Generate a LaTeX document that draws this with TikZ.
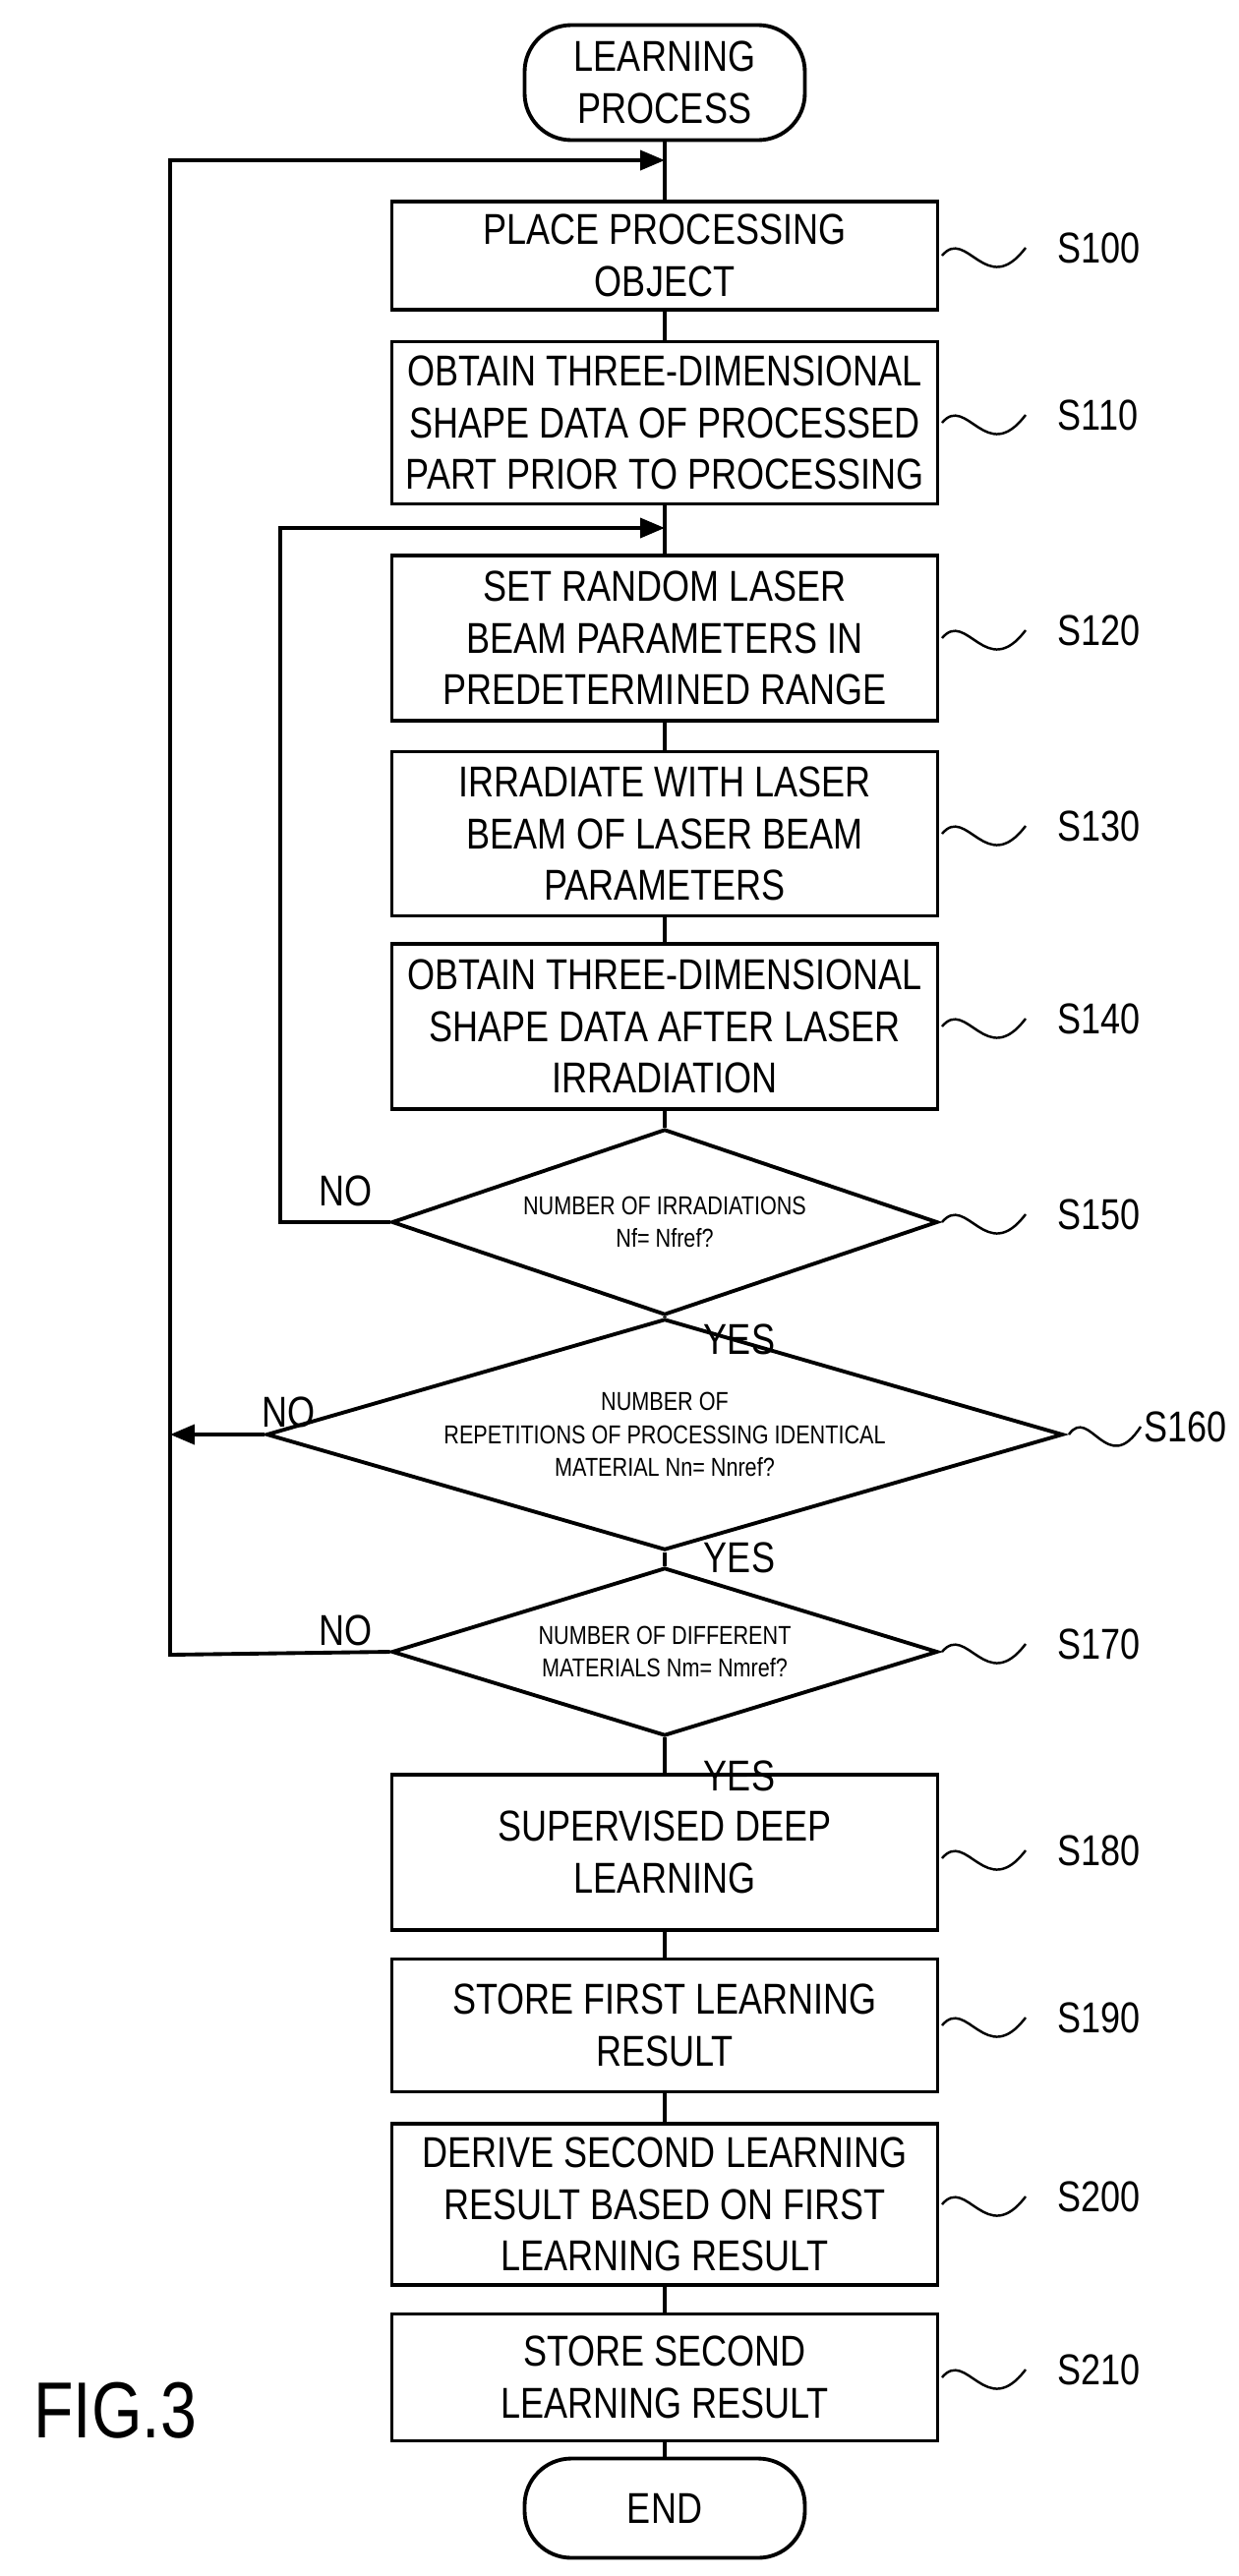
\documentclass[tikz,border=0pt]{standalone}
\usepackage{fontspec}
\setmainfont{Liberation Sans}[FakeStretch=0.82]
\usetikzlibrary{shapes.geometric,arrows.meta}
\begin{document}
\begin{tikzpicture}[x=0.02cm,y=-0.02cm,
  line width=2.2pt,
  box/.style={draw,rectangle,minimum width=555*0.02cm,inner sep=0pt,align=center,font=\fontsize{25}{30}\selectfont},
  term/.style={draw,rounded corners=0.95cm,minimum width=285*0.02cm,inner sep=0pt,align=center,font=\fontsize{25}{30}\selectfont},
  dia/.style={draw,diamond,inner sep=0pt,aspect=3,align=center,font=\fontsize{15}{19}\selectfont},
  lab/.style={font=\fontsize{25}{30}\selectfont},
  arr/.style={-{Triangle[length=0.5cm,width=0.4cm]}}]
\useasboundingbox (0,0) rectangle (1259,2620);
\node[term,minimum height=117*0.02cm] (start) at (676,84) {LEARNING\\PROCESS};
\node[box,minimum height=110*0.02cm] (s100) at (676,260) {PLACE PROCESSING\\OBJECT};
\node[box,minimum height=165*0.02cm] (s110) at (676,430) {OBTAIN THREE-DIMENSIONAL\\SHAPE DATA OF PROCESSED\\PART PRIOR TO PROCESSING};
\node[box,minimum height=168*0.02cm] (s120) at (676,649) {SET RANDOM LASER\\BEAM PARAMETERS IN\\PREDETERMINED RANGE};
\node[box,minimum height=167*0.02cm] (s130) at (676,848) {IRRADIATE WITH LASER\\BEAM OF LASER BEAM\\PARAMETERS};
\node[box,minimum height=168*0.02cm] (s140) at (676,1044) {OBTAIN THREE-DIMENSIONAL\\SHAPE DATA AFTER LASER\\IRRADIATION};
\node[dia,minimum width=555*0.02cm,minimum height=189*0.02cm] (s150) at (676,1243) {NUMBER OF IRRADIATIONS\\Nf= Nfref?};
\node[dia,minimum width=810*0.02cm,minimum height=160*0.02cm] (s160) at (676,1459) {NUMBER OF\\REPETITIONS OF PROCESSING IDENTICAL\\MATERIAL Nn= Nnref?};
\node[dia,minimum width=555*0.02cm,minimum height=171*0.02cm] (s170) at (676,1680) {NUMBER OF DIFFERENT\\MATERIALS Nm= Nmref?};
\node[box,minimum height=158*0.02cm] (s180) at (676,1884) {SUPERVISED DEEP\\LEARNING};
\node[box,minimum height=135*0.02cm] (s190) at (676,2060) {STORE FIRST LEARNING\\RESULT};
\node[box,minimum height=164*0.02cm] (s200) at (676,2242) {DERIVE SECOND LEARNING\\RESULT BASED ON FIRST\\LEARNING RESULT};
\node[box,minimum height=129*0.02cm] (s210) at (676,2418) {STORE SECOND\\LEARNING RESULT};
\node[term,minimum height=101*0.02cm] (end) at (676,2551) {END};
\coordinate (m1) at (676,163);
\coordinate (m2) at (676,537);
\coordinate (o1) at (173,1683);
\coordinate (o2) at (173,1459);
\coordinate (i1) at (285,1243);
\draw (start) -- (s100) -- (s110) -- (s120) -- (s130) -- (s140) -- (s150) -- (s160) -- (s170) -- (s180) -- (s190) -- (s200) -- (s210) -- (end);
\draw[arr] (s170.west) -- (o1) |- (m1);
\draw[arr] (s150.west) -- (i1) |- (m2);
\draw[arr] (s160.west) -- (o2);
\node[lab] (n150) at (352,1211) {NO};
\node[lab] (n160) at (294,1436) {NO};
\node[lab] (n170) at (352,1658) {NO};
\node[lab] (y150) at (752,1362) {YES};
\node[lab] (y160) at (752,1584) {YES};
\node[lab] (y170) at (752,1806) {YES};
\foreach \n/\t/\y/\x in {s100/S100/260/953, s110/S110/430/953, s120/S120/649/953, s130/S130/848/953, s140/S140/1044/953, s150/S150/1243/953, s170/S170/1680/953, s180/S180/1890/953, s190/S190/2060/953, s200/S200/2242/953, s210/S210/2418/953}{
  \draw[line width=1.4pt] (\x+5,\y) .. controls (\x+30,\y-30) and (\x+50,\y+45) .. (\x+90,\y-8);
  \node[lab,anchor=west] (l\n) at (\x+115,\y-8) {\t};
}
\draw[line width=1.4pt] (1087,1459) .. controls (1108,1429) and (1126,1504) .. (1160,1451);
\node[lab,anchor=east] (ls160) at (1255,1451) {S160};
\node[font=\fontsize{46}{50}\selectfont] (fig) at (117,2452) {FIG.3};
\end{tikzpicture}
\end{document}
